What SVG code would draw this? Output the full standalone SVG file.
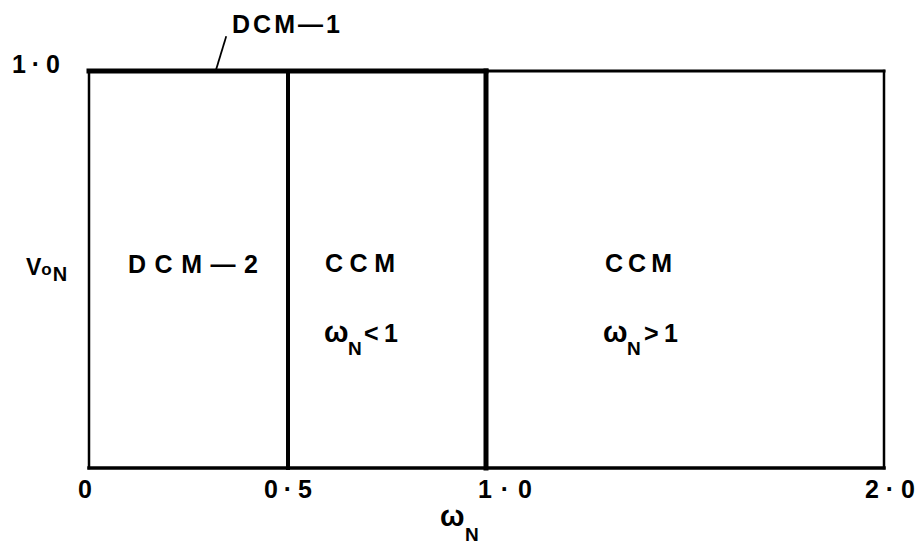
<svg xmlns="http://www.w3.org/2000/svg" width="922" height="546" viewBox="0 0 922 546">
<style>
text{font-family:"Liberation Sans",Arial,sans-serif;font-weight:bold;fill:#000;font-size:25px}
.sub{font-size:19px}
.om{font-size:29px}
.ln{stroke:#000;fill:none;stroke-linecap:square}
</style>
<rect width="922" height="546" fill="#fff"/>
<g id="frame">
<line class="ln" x1="89" y1="71" x2="486" y2="71" stroke-width="5"/>
<line class="ln" x1="486" y1="71" x2="884" y2="71" stroke-width="3"/>
<line class="ln" x1="89" y1="468" x2="884" y2="468" stroke-width="3.5"/>
<line class="ln" x1="89" y1="71" x2="89" y2="468" stroke-width="2.5"/>
<line class="ln" x1="884" y1="71" x2="884" y2="468" stroke-width="2.5"/>
</g>
<g id="boundaries">
<line class="ln" x1="288" y1="71" x2="288" y2="468" stroke-width="4"/>
<line class="ln" x1="486" y1="71" x2="486" y2="468" stroke-width="5"/>
<line class="ln" x1="226" y1="37" x2="216" y2="70" stroke-width="1.8"/>
</g>
<g id="labels">
<text x="232" y="33" textLength="108" lengthAdjust="spacing">DCM—1</text>
<text x="12" y="73" textLength="48" lengthAdjust="spacing">1·0</text>
<text x="26" y="275" style="font-size:23px">V<tspan style="font-size:17px">o</tspan><tspan style="font-size:20px" dx="1" dy="6">N</tspan></text>
<text x="128" y="273" textLength="130" lengthAdjust="spacing">DCM—2</text>
<text x="325" y="272" textLength="70" lengthAdjust="spacing">CCM</text>
<text x="324" y="342" class="om">ω</text>
<text x="348" y="355" class="sub">N</text>
<text x="364" y="342" textLength="34" lengthAdjust="spacing">&lt;1</text>
<text x="605" y="272" textLength="67" lengthAdjust="spacing">CCM</text>
<text x="603" y="342" class="om">ω</text>
<text x="627" y="355" class="sub">N</text>
<text x="644" y="342" textLength="34" lengthAdjust="spacing">&gt;1</text>
<text x="78" y="498">0</text>
<text x="264" y="498" textLength="48" lengthAdjust="spacing">0·5</text>
<text x="478" y="498" textLength="54" lengthAdjust="spacing">1·0</text>
<text x="865" y="498" textLength="50" lengthAdjust="spacing">2·0</text>
<text x="440" y="526" class="om">ω</text>
<text x="465" y="541" class="sub">N</text>
</g>
</svg>
